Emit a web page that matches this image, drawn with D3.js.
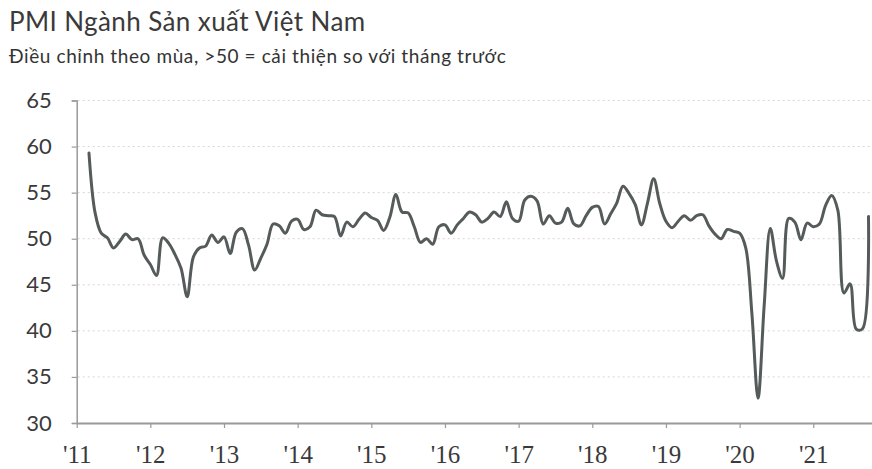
<!DOCTYPE html>
<html>
<head>
<meta charset="utf-8">
<script src="https://cdn.jsdelivr.net/npm/d3@7"></script>
<style>
  html, body { margin: 0; padding: 0; background: #ffffff; }
  svg { display: block; }
</style>
</head>
<body>
<svg id="chart" width="872" height="469"></svg>
<script>
// ---------- data ----------
const titleText = "PMI Ngành Sản xuất Việt Nam";
const subtitleText = "Điều chỉnh theo mùa, >50 = cải thiện so với tháng trước";
const xTickLabels = ["'11","'12","'13","'14","'15","'16","'17","'18","'19","'20","'21"];
const yTicks = [30, 35, 40, 45, 50, 55, 60, 65];
const firstYear = 2011;
const firstMonthIndex = 2; // March 2011 (months counted from Jan 2011 = 0)
const pmi2011 = [59.3, 52.8, 50.6, 50.1, 49.0, 49.7, 50.5, 49.9, 50.0, 48.2];
const pmi2012 = [47.2, 46.0, 50.1, 49.5, 48.3, 46.8, 43.7, 48.0, 49.0, 49.2, 50.4, 49.6];
const pmi2013 = [50.2, 48.4, 50.7, 51.1, 49.3, 46.6, 47.9, 49.4, 51.6, 51.4, 50.6, 51.9];
const pmi2014 = [52.1, 51.0, 51.3, 53.1, 52.6, 52.5, 52.4, 50.3, 51.8, 51.3, 52.1, 52.8];
const pmi2015 = [52.3, 52.0, 50.9, 52.3, 54.8, 52.9, 52.8, 51.3, 49.6, 50.0, 49.4, 51.3];
const pmi2016 = [51.5, 50.6, 51.5, 52.2, 52.9, 52.6, 51.8, 52.2, 52.9, 52.4, 54.0, 52.2];
const pmi2017 = [51.9, 54.2, 54.6, 54.1, 51.6, 52.5, 51.7, 51.8, 53.3, 51.6, 51.4, 52.5];
const pmi2018 = [53.4, 53.5, 51.6, 52.7, 53.9, 55.7, 54.9, 53.7, 51.5, 53.9, 56.5, 53.8];
const pmi2019 = [51.9, 51.2, 51.9, 52.5, 52.0, 52.5, 52.6, 51.4, 50.5, 50.0, 51.0, 50.8];
const pmi2020 = [50.6, 49.0, 41.9, 32.7, 42.7, 51.1, 47.6, 45.7, 52.2, 51.8, 49.9, 51.7];
const pmi2021 = [51.3, 51.6, 53.6, 54.7, 53.1, 44.1, 45.1, 40.2, 40.2, 52.4];

const pmiValues = [].concat(pmi2011, pmi2012, pmi2013, pmi2014, pmi2015, pmi2016,
                            pmi2017, pmi2018, pmi2019, pmi2020, pmi2021);
const series = pmiValues.map((v, i) => ({ m: firstMonthIndex + i, v }));

// ---------- layout ----------
const svg = d3.select("#chart");
const plotLeft = 76.7, plotTop = 100.5, plotBottom = 423;
const monthPx = 6.138;

const x = d3.scaleLinear().domain([0, 132]).range([plotLeft, plotLeft + 132 * monthPx]);
const y = d3.scaleLinear().domain([30, 65]).range([plotBottom, plotTop]);

// gridlines
svg.append("g")
  .selectAll("line")
  .data(yTicks.filter(t => t > 30))
  .join("line")
  .attr("x1", plotLeft + 1).attr("x2", 872)
  .attr("y1", d => y(d)).attr("y2", d => y(d))
  .attr("stroke", "#d6d6d6")
  .attr("stroke-width", 1)
  .attr("stroke-dasharray", "2,3");

// y axis
const yAxis = svg.append("g")
  .attr("transform", `translate(${plotLeft},0)`)
  .call(d3.axisLeft(y).tickValues(yTicks).tickSize(5).tickPadding(20));
yAxis.select(".domain").attr("stroke", "#9a9a9a").attr("stroke-width", 1.5);
yAxis.selectAll(".tick line").attr("stroke", "#9a9a9a").attr("stroke-width", 1.2);
yAxis.selectAll("text")
  .attr("fill", "#3a3a3a")
  .style("font-family", "Lato, 'Open Sans', sans-serif")
  .style("font-size", "22px");

// x axis
const xTickVals = xTickLabels.map((d, i) => i * 12);
const xAxis = svg.append("g")
  .attr("transform", `translate(0,${plotBottom})`)
  .call(d3.axisBottom(x).tickValues(xTickVals).tickFormat((d, i) => xTickLabels[i])
    .tickSize(5).tickPadding(17).tickSizeOuter(0));
xAxis.select(".domain").attr("stroke", "#9a9a9a").attr("stroke-width", 2);
xAxis.selectAll(".tick line").attr("stroke", "#9a9a9a").attr("stroke-width", 1.2);
xAxis.selectAll("text")
  .attr("fill", "#3a3a3a")
  .style("font-family", "'Liberation Serif', 'DejaVu Serif', serif")
  .style("font-size", "25px");

// line
const line = d3.line()
  .x(d => x(d.m))
  .y(d => y(d.v))
  .curve(d3.curveCatmullRom.alpha(0.5));

svg.append("path")
  .datum(series)
  .attr("d", line)
  .attr("fill", "none")
  .attr("stroke", "#555a5a")
  .attr("stroke-width", 3)
  .attr("stroke-linejoin", "round")
  .attr("stroke-linecap", "round");

// titles
svg.append("text")
  .attr("x", 9).attr("y", 31)
  .attr("fill", "#3a3a3a")
  .style("font-family", "Lato, 'Open Sans', sans-serif")
  .style("font-size", "26px")
  .style("letter-spacing", "0.4px")
  .text(titleText);

svg.append("text")
  .attr("x", 9).attr("y", 63)
  .attr("fill", "#333")
  .style("font-family", "Lato, 'Open Sans', sans-serif")
  .style("font-size", "19px")
  .style("letter-spacing", "0.6px")
  .text(subtitleText);
</script>
</body>
</html>
